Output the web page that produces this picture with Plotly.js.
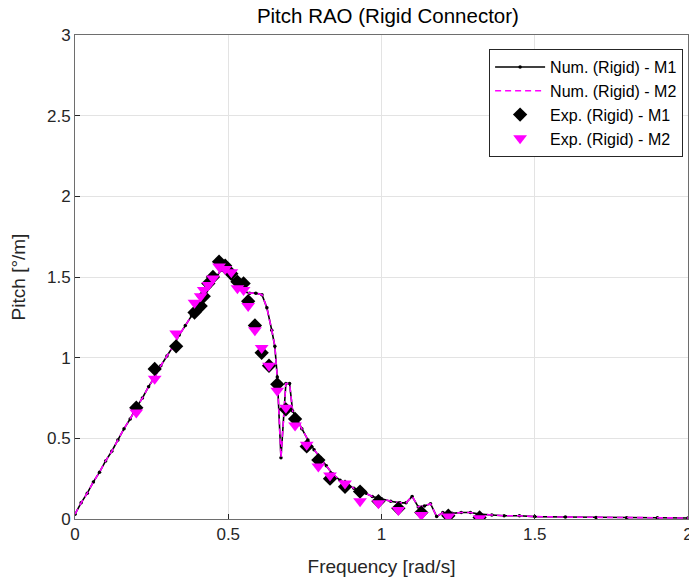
<!DOCTYPE html>
<html>
<head>
<meta charset="utf-8">
<script src="https://cdn.plot.ly/plotly-3.0.1.min.js"></script>
<style>html,body{margin:0;padding:0;background:#fff;}#chart{width:689px;height:581px;}</style>
</head>
<body>
<div id="chart"></div>
<script>
// Numerical (rigid) model, frequency [rad/s]
const numFreq = [0.00,0.02,0.04,0.06,0.08,0.10,0.12,0.14,0.16,0.18,0.20,0.22,0.24,0.26,0.28,0.30,0.32,0.34,0.36,0.38,0.40,0.42,0.44,0.46,0.475,0.49,0.51,0.53,0.55,0.57,0.59,0.61,0.626,0.642,0.652,0.66,0.672,0.688,0.70,0.71,0.72,0.74,0.76,0.78,0.80,0.82,0.84,0.865,0.89,0.91,0.93,0.95,0.97,1.00,1.03,1.06,1.08,1.10,1.12,1.14,1.16,1.18,1.20,1.23,1.26,1.29,1.32,1.36,1.40,1.45,1.50,1.60,1.70,1.80,1.90,2.00];
const numM1 = [0.03,0.10,0.16,0.23,0.29,0.36,0.42,0.49,0.56,0.62,0.69,0.75,0.82,0.88,0.95,1.01,1.07,1.14,1.20,1.26,1.32,1.38,1.44,1.50,1.54,1.53,1.49,1.45,1.41,1.40,1.40,1.39,1.31,1.17,1.07,0.88,0.38,0.84,0.84,0.67,0.63,0.56,0.49,0.43,0.38,0.33,0.28,0.24,0.21,0.19,0.175,0.16,0.14,0.125,0.11,0.10,0.10,0.14,0.075,0.08,0.095,0.015,0.04,0.035,0.04,0.04,0.03,0.025,0.02,0.02,0.015,0.012,0.010,0.008,0.007,0.006];
const numM2 = [0.03,0.10,0.16,0.23,0.29,0.36,0.42,0.49,0.56,0.62,0.69,0.75,0.82,0.88,0.95,1.01,1.07,1.14,1.20,1.26,1.32,1.38,1.44,1.50,1.54,1.53,1.49,1.45,1.41,1.40,1.40,1.39,1.31,1.17,1.07,0.88,0.38,0.84,0.84,0.67,0.63,0.56,0.49,0.43,0.38,0.33,0.28,0.24,0.21,0.19,0.175,0.16,0.14,0.125,0.11,0.10,0.10,0.14,0.075,0.08,0.095,0.015,0.04,0.035,0.04,0.04,0.03,0.025,0.02,0.02,0.015,0.012,0.010,0.008,0.007,0.006];

// Experimental (rigid) data
const expFreq = [0.20,0.26,0.33,0.39,0.41,0.42,0.435,0.45,0.47,0.49,0.51,0.53,0.55,0.565,0.587,0.609,0.633,0.66,0.688,0.718,0.756,0.794,0.832,0.881,0.93,0.99,1.055,1.13,1.218,1.32];
const expM1 = [0.69,0.93,1.07,1.28,1.32,1.38,1.46,1.50,1.595,1.57,1.52,1.47,1.46,1.35,1.20,1.03,0.95,0.835,0.68,0.62,0.45,0.365,0.25,0.20,0.17,0.11,0.066,0.04,0.02,0.01];
const expM2 = [0.66,0.87,1.15,1.34,1.38,1.42,1.45,1.49,1.565,1.55,1.53,1.43,1.42,1.32,1.17,1.06,0.95,0.795,0.69,0.58,0.46,0.325,0.27,0.22,0.11,0.097,0.056,0.025,0.015,0.005];

const names = ["Num. (Rigid) - M1","Num. (Rigid) - M2","Exp. (Rigid) - M1","Exp. (Rigid) - M2"];

const FONT = 'Liberation Sans, Arial, sans-serif';

const traces = [
  {x: numFreq, y: numM1, name: names[0], type: 'scatter', mode: 'lines+markers',
   line: {color: '#000000', width: 1.6}, marker: {color: '#000000', size: 3.5, symbol: 'circle'}},
  {x: numFreq, y: numM2, name: names[1], type: 'scatter', mode: 'lines',
   line: {color: '#ff00ff', width: 1.6, dash: '6px,4px'}},
  {x: expFreq, y: expM1, name: names[2], type: 'scatter', mode: 'markers',
   marker: {color: '#000000', size: 11, symbol: 'diamond'}},
  {x: expFreq, y: expM2, name: names[3], type: 'scatter', mode: 'markers',
   marker: {color: '#ff00ff', size: 12, symbol: 'triangle-down'}}
];

const axisCommon = {
  showline: true, mirror: true, linecolor: '#6e6e6e', linewidth: 1,
  showgrid: true, gridcolor: '#e3e3e3', gridwidth: 1, zeroline: false,
  ticks: 'inside', ticklen: 5, tickcolor: '#262626',
  ticklabeloverflow: 'allow',
  tickfont: {family: FONT, size: 17, color: '#262626'}
};

const layout = {
  width: 689, height: 581,
  margin: {l: 75, r: 1, t: 35, b: 62, pad: 0},
  paper_bgcolor: '#ffffff', plot_bgcolor: '#ffffff',
  title: {text: 'Pitch RAO (Rigid Connector)', x: 0.563, xanchor: 'center', y: 0.972, yanchor: 'middle', yref: 'container',
          font: {family: FONT, size: 20.5, color: '#000000'}},
  xaxis: Object.assign({}, axisCommon, {range: [0, 2], dtick: 0.5, tick0: 0,
    title: {text: 'Frequency [rad/s]', standoff: 16, font: {family: FONT, size: 19, color: '#262626'}}}),
  yaxis: Object.assign({}, axisCommon, {range: [0, 3], dtick: 0.5, tick0: 0,
    title: {text: 'Pitch [°/m]', standoff: 16, font: {family: FONT, size: 19, color: '#262626'}}}),
  showlegend: true,
  legend: {x: 0.992, y: 0.971, xanchor: 'right', yanchor: 'top', bgcolor: '#ffffff',
           bordercolor: '#262626', borderwidth: 1, tracegroupgap: 0, itemwidth: 50,
           font: {family: FONT, size: 16, color: '#000000'}},
  hovermode: false
};

Plotly.newPlot('chart', traces, layout, {displayModeBar: false, staticPlot: true});
</script>
</body>
</html>
